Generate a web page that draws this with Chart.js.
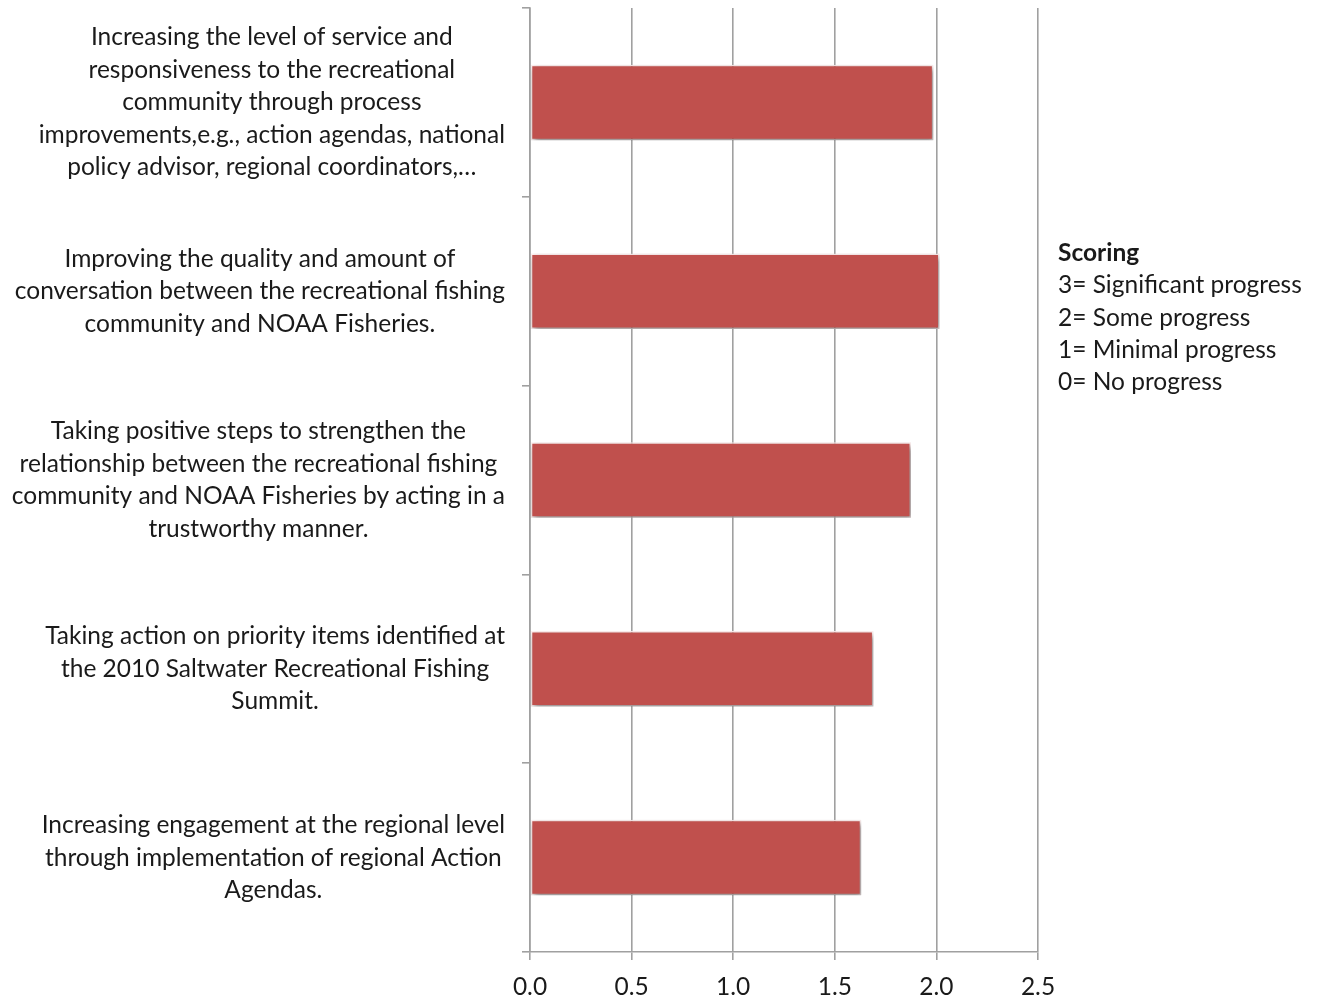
<!DOCTYPE html>
<html>
<head>
<meta charset="utf-8">
<script src="https://cdn.jsdelivr.net/npm/chart.js@4.4.1/dist/chart.umd.min.js"></script>
<style>
  html, body { margin: 0; padding: 0; background: #ffffff; }
  #wrap { width: 1320px; height: 998px; position: relative; }
</style>
</head>
<body>
<div id="wrap"><canvas id="c" width="1320" height="998"></canvas></div>
<script>
const categories = [
  ["Increasing the level of service and", "responsiveness to the recreational", "community through process", "improvements,e.g., action agendas, national", "policy advisor, regional coordinators,…"],
  ["Improving the quality and amount of", "conversation between the recreational fishing", "community and NOAA Fisheries."],
  ["Taking positive steps to strengthen the", "relationship between the recreational fishing", "community and NOAA Fisheries by acting in a", "trustworthy manner."],
  ["Taking action on priority items identified at", "the 2010 Saltwater Recreational Fishing", "Summit."],
  ["Increasing engagement at the regional level", "through implementation of regional Action", "Agendas."]
];
const scores = [1.985, 2.015, 1.875, 1.69, 1.63];
const xTickValues = [0, 0.5, 1.0, 1.5, 2.0, 2.5];
const scoringTitle = "Scoring";
const scoringLines = ["3= Significant progress", "2= Some progress", "1= Minimal progress", "0= No progress"];

const FONT_FAMILY = "Lato, 'Open Sans', sans-serif";
const FONT_SIZE = 24.5;
const TEXT_COLOR = "#1a1a1a";
const GRID_COLOR = "#a0a0a0";

const shadowPlugin = {
  id: 'barShadow',
  beforeDatasetDraw(chart) {
    const ctx = chart.ctx;
    ctx.save();
    ctx.shadowColor = 'rgba(0,0,0,0.45)';
    ctx.shadowBlur = 6;
    ctx.shadowOffsetX = 2;
    ctx.shadowOffsetY = 3;
  },
  afterDatasetDraw(chart) {
    chart.ctx.restore();
  }
};

const labelPlugin = {
  id: 'blockLabels',
  afterDraw(chart) {
    const ctx = chart.ctx;
    const yScale = chart.scales.y;
    const rightEdge = chart.chartArea.left - 25;
    const lineH = 32.5;
    ctx.save();
    ctx.font = FONT_SIZE + "px " + FONT_FAMILY;
    ctx.fillStyle = TEXT_COLOR;
    ctx.textAlign = 'center';
    ctx.textBaseline = 'middle';
    categories.forEach((lines, i) => {
      const cy = yScale.getPixelForValue(i);
      const maxW = Math.max(...lines.map(l => ctx.measureText(l).width));
      const cx = rightEdge - maxW / 2;
      const y0 = cy - (lines.length - 1) * lineH / 2;
      lines.forEach((l, j) => ctx.fillText(l, cx, y0 + j * lineH));
    });
    // Scoring key
    const kx = chart.chartArea.right + 20;
    const ky = 253;
    ctx.textAlign = 'left';
    ctx.font = "bold " + FONT_SIZE + "px " + FONT_FAMILY;
    ctx.fillText(scoringTitle, kx, ky);
    ctx.font = FONT_SIZE + "px " + FONT_FAMILY;
    scoringLines.forEach((l, j) => ctx.fillText(l, kx, ky + (j + 1) * 32.3));
    ctx.restore();
  }
};

new Chart(document.getElementById('c'), {
  type: 'bar',
  data: {
    labels: categories,
    datasets: [{
      label: 'Score',
      data: scores,
      backgroundColor: '#C0504D',
      borderColor: 'rgba(255,240,240,0.95)',
      borderWidth: 1.5,
      borderSkipped: false,
      barPercentage: 0.5,
      categoryPercentage: 0.8
    }]
  },
  options: {
    indexAxis: 'y',
    responsive: false,
    animation: false,
    devicePixelRatio: 1,
    layout: { padding: { top: 8, right: 282, bottom: 0, left: 0 } },
    plugins: { legend: { display: false }, tooltip: { enabled: false } },
    scales: {
      x: {
        type: 'linear',
        min: 0,
        max: 2.5,
        afterBuildTicks(scale) { scale.ticks = xTickValues.map(v => ({ value: v })); },
        afterFit(scale) { scale.height = 46; },
        ticks: {
          callback: v => Number(v).toFixed(1),
          font: { family: FONT_FAMILY, size: FONT_SIZE },
          color: TEXT_COLOR,
          padding: 12,
          maxRotation: 0
        },
        grid: { color: GRID_COLOR, lineWidth: 1.6, tickLength: 8, drawTicks: true },
        border: { display: true, color: GRID_COLOR, width: 1.6 }
      },
      y: {
        afterFit(scale) { scale.width = 530; },
        ticks: { display: false },
        grid: { drawOnChartArea: false, color: GRID_COLOR, lineWidth: 1.6, tickLength: 8, offset: true },
        border: { display: true, color: GRID_COLOR, width: 1.6 }
      }
    }
  },
  plugins: [shadowPlugin, labelPlugin]
});
</script>
</body>
</html>
